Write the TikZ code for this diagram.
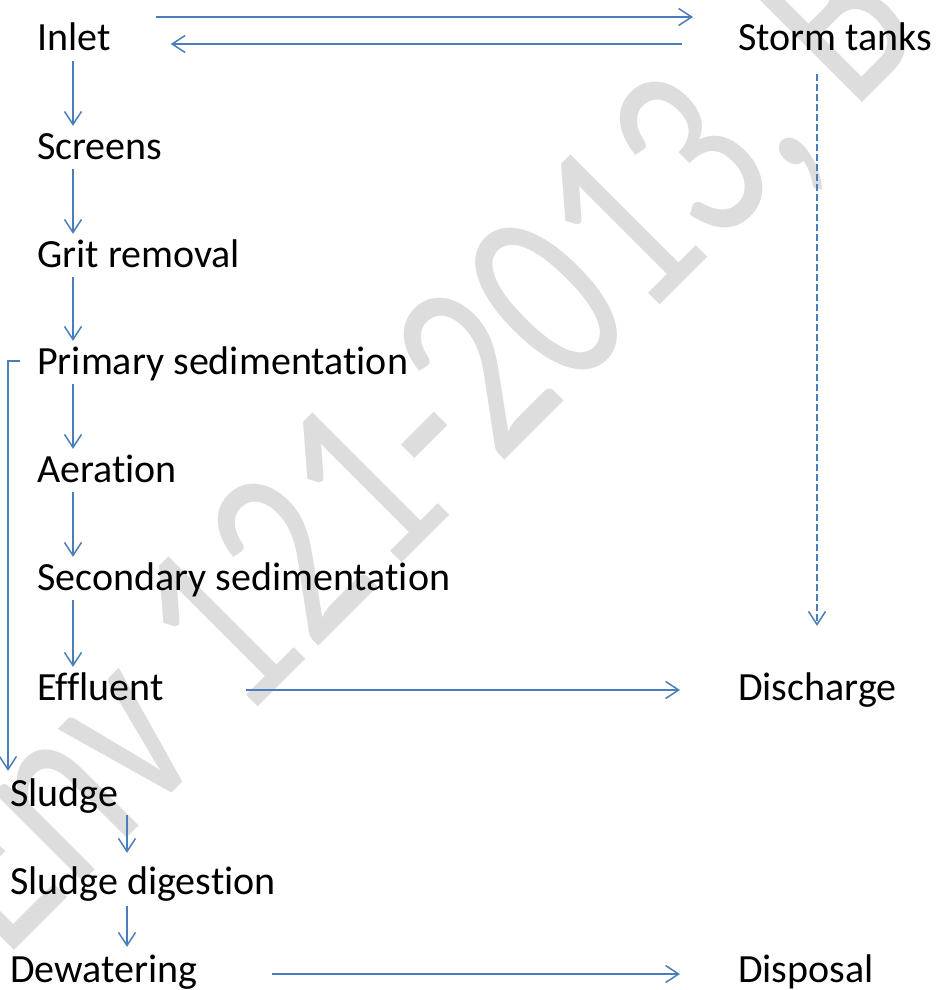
\documentclass[tikz,border=0pt]{standalone}
\usepackage{fontspec}
\setmainfont{Carlito}[Ligatures={NoCommon}]
\usetikzlibrary{arrows.meta,calc}
\definecolor{flow}{HTML}{4A7EBB}
\definecolor{wm}{HTML}{DDDDDD}
\tikzset{
  lbl/.style={anchor=base west, inner sep=0pt, text height=30pt, text depth=10pt, font=\fontsize{40}{44}\selectfont},
  arr/.style={draw=flow, line width=1.5pt, -{Straight Barb[length=13pt,width=17pt,line width=1.5pt]}},
  wmtext/.style={anchor=base west, inner sep=0pt, text=wm, rotate=45, font=\fontsize{263}{263}\selectfont},
}
\begin{document}
\begin{tikzpicture}[x=1pt,y=-1pt]
\useasboundingbox (0,0) rectangle (936,990);
\begin{scope}
\clip (0,0) rectangle (936,990);
\node[wmtext] (wmk) at (4,961) {\scalebox{0.76}[1]{Env 121-2013, B}};
\end{scope}
\node[lbl] (inlet) at (37,51) {Inlet};
\node[lbl] (storm) at (738,51) {Storm tanks};
\node[lbl] (screens) at (37,159) {Screens};
\node[lbl] (grit) at (37,267) {Grit removal};
\node[lbl] (primary) at (37,374) {Primary sedimentation};
\node[lbl] (aeration) at (37,482) {Aeration};
\node[lbl] (secondary) at (37,590) {Secondary sedimentation};
\node[lbl] (effluent) at (37,700) {Effluent};
\node[lbl] (discharge) at (738,700) {Discharge};
\node[lbl] (sludge) at (10,806) {Sludge};
\node[lbl] (digestion) at (10,894) {Sludge digestion};
\node[lbl] (dewater) at (10,982) {Dewatering};
\node[lbl] (disposal) at (738,982) {Disposal};
\coordinate (colA) at (73,0);
\coordinate (colB) at (127,0);
% main column
\draw[arr] (colA |- inlet.south) -- ([yshift=3pt]colA |- screens.north);
\draw[arr] (colA |- screens.south) -- ([yshift=3pt]colA |- grit.north);
\draw[arr] (colA |- grit.south) -- ([yshift=3pt]colA |- primary.north);
\draw[arr] (colA |- primary.south) -- ([yshift=3pt]colA |- aeration.north);
\draw[arr] (colA |- aeration.south) -- ([yshift=3pt]colA |- secondary.north);
\draw[arr] (colA |- secondary.south) -- ([yshift=3pt]colA |- effluent.north);
% storm tanks
\draw[arr] ([xshift=45pt,yshift=34pt]inlet.base east) -- ([xshift=-45pt,yshift=34pt]storm.base west);
\draw[arr] ([xshift=-56pt,yshift=7pt]storm.base west) -- ([xshift=60pt,yshift=7pt]inlet.base east);
\draw[arr,dash pattern=on 7pt off 3pt] ([xshift=79pt,yshift=-13pt]storm.south west) -- ([xshift=79pt,yshift=44pt]discharge.north west);
% effluent
\draw[arr] ([xshift=82pt,yshift=10pt]effluent.base east) -- ([xshift=-58pt,yshift=10pt]discharge.base west);
% sludge line
\draw[arr] ([xshift=-17pt,yshift=13pt]primary.base west) -| ([xshift=-2pt,yshift=5pt]sludge.north west);
\draw[arr] ([yshift=-9pt]colB |- sludge.base) -- ([yshift=11pt]colB |- digestion.north);
\draw[arr] ([yshift=-12pt]colB |- digestion.base) -- ([yshift=5pt]colB |- dewater.north);
\draw[arr] ([xshift=75pt,yshift=8pt]dewater.base east) -- ([xshift=-58pt,yshift=8pt]disposal.base west);
\end{tikzpicture}
\end{document}
